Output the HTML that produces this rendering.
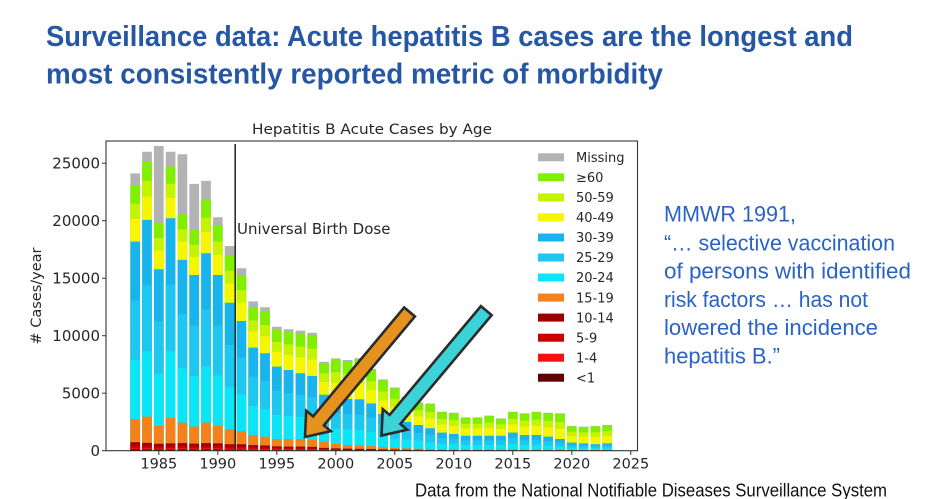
<!DOCTYPE html>
<html><head><meta charset="utf-8"><style>
html,body{margin:0;padding:0;background:#fff;}
svg{display:block;}
.tk{font-family:"DejaVu Sans","Liberation Sans",sans-serif;fill:#262626;}
</style></head><body>
<svg width="940" height="499" viewBox="0 0 940 499" xmlns="http://www.w3.org/2000/svg">
<rect width="940" height="499" fill="#fff"/>
<!-- Slide title -->
<g font-family="'Liberation Sans',sans-serif" font-weight="bold" font-size="29" fill="#2557a5">
<text x="46" y="46" textLength="807" lengthAdjust="spacingAndGlyphs">Surveillance data: Acute hepatitis B cases are the longest and</text>
<text x="46" y="83.5" textLength="617" lengthAdjust="spacingAndGlyphs">most consistently reported metric of morbidity</text>
</g>
<!-- Chart title -->
<text class="tk" x="372" y="134" font-size="14.5" text-anchor="middle" textLength="240" lengthAdjust="spacingAndGlyphs">Hepatitis B Acute Cases by Age</text>
<!-- Bars -->
<g transform="translate(99.8,450.7) scale(11.8,-0.0115)">
<path fill="#b3b3b3" d="M2.59 0h.82v24120h-.82zm1 0h.82v26000h-.82zm1 0h.82v26500h-.82zm1 0h.82v26000h-.82zm1 0h.82v25780h-.82zm1 0h.82v23200h-.82zm1 0h.82v23460h-.82zm1 0h.82v20300h-.82zm1 0h.82v17800h-.82zm1 0h.82v15870h-.82zm1 0h.82v12980h-.82zm1 0h.82v12470h-.82zm1 0h.82v10780h-.82zm1 0h.82v10560h-.82zm1 0h.82v10440h-.82zm1 0h.82v10260h-.82zm1 0h.82v7740h-.82zm1 0h.82v8030h-.82zm1 0h.82v7890h-.82zm1 0h.82v8050h-.82zm1 0h.82v7100h-.82zm1 0h.82v6200h-.82zm1 0h.82v5500h-.82zm1 0h.82v4700h-.82zm1 0h.82v4200h-.82zm1 0h.82v4100h-.82zm1 0h.82v3390h-.82zm1 0h.82v3300h-.82zm1 0h.82v2900h-.82zm1 0h.82v2900h-.82zm1 0h.82v3050h-.82zm1 0h.82v2810h-.82zm1 0h.82v3390h-.82zm1 0h.82v3250h-.82zm1 0h.82v3390h-.82zm1 0h.82v3300h-.82zm1 0h.82v3250h-.82zm1 0h.82v2150h-.82zm1 0h.82v2090h-.82zm1 0h.82v2150h-.82zm1 0h.82v2240h-.82z"/>
<path fill="#80f000" d="M2.59 0h.82v23100h-.82zm1 0h.82v25130h-.82zm1 0h.82v19830h-.82zm1 0h.82v24700h-.82zm1 0h.82v20560h-.82zm1 0h.82v19200h-.82zm1 0h.82v21810h-.82zm1 0h.82v19630h-.82zm1 0h.82v17020h-.82zm1 0h.82v15280h-.82zm1 0h.82v12500h-.82zm1 0h.82v12120h-.82zm1 0h.82v10530h-.82zm1 0h.82v10310h-.82zm1 0h.82v10190h-.82zm1 0h.82v10060h-.82zm1 0h.82v7640h-.82zm1 0h.82v7930h-.82zm1 0h.82v7790h-.82zm1 0h.82v7950h-.82zm1 0h.82v7000h-.82zm1 0h.82v6120h-.82zm1 0h.82v5420h-.82zm1 0h.82v4640h-.82zm1 0h.82v4140h-.82zm1 0h.82v4040h-.82zm1 0h.82v3340h-.82zm1 0h.82v3250h-.82zm1 0h.82v2850h-.82zm1 0h.82v2860h-.82zm1 0h.82v3010h-.82zm1 0h.82v2770h-.82zm1 0h.82v3350h-.82zm1 0h.82v3210h-.82zm1 0h.82v3350h-.82zm1 0h.82v3260h-.82zm1 0h.82v3210h-.82zm1 0h.82v2120h-.82zm1 0h.82v2060h-.82zm1 0h.82v2120h-.82zm1 0h.82v2210h-.82z"/>
<path fill="#c4f400" d="M2.59 0h.82v21476h-.82zm1 0h.82v23460h-.82zm1 0h.82v18493h-.82zm1 0h.82v23218h-.82zm1 0h.82v19250h-.82zm1 0h.82v17906h-.82zm1 0h.82v20279h-.82zm1 0h.82v18194h-.82zm1 0h.82v15650h-.82zm1 0h.82v13960h-.82zm1 0h.82v11332h-.82zm1 0h.82v10915h-.82zm1 0h.82v9467h-.82zm1 0h.82v9224h-.82zm1 0h.82v9048h-.82zm1 0h.82v8885h-.82zm1 0h.82v6726h-.82zm1 0h.82v6818h-.82zm1 0h.82v6704h-.82zm1 0h.82v6798h-.82zm1 0h.82v6043h-.82zm1 0h.82v5156h-.82zm1 0h.82v4522h-.82zm1 0h.82v3934h-.82zm1 0h.82v3513h-.82zm1 0h.82v3350h-.82zm1 0h.82v2756h-.82zm1 0h.82v2656h-.82zm1 0h.82v2338h-.82zm1 0h.82v2345h-.82zm1 0h.82v2446h-.82zm1 0h.82v2285h-.82zm1 0h.82v2763h-.82zm1 0h.82v2603h-.82zm1 0h.82v2697h-.82zm1 0h.82v2587h-.82zm1 0h.82v2487h-.82zm1 0h.82v1651h-.82zm1 0h.82v1591h-.82zm1 0h.82v1605h-.82zm1 0h.82v1692h-.82z"/>
<path fill="#f6f600" d="M2.59 0h.82v20148h-.82zm1 0h.82v22094h-.82zm1 0h.82v17400h-.82zm1 0h.82v22006h-.82zm1 0h.82v18178h-.82zm1 0h.82v16848h-.82zm1 0h.82v19026h-.82zm1 0h.82v17020h-.82zm1 0h.82v14530h-.82zm1 0h.82v12880h-.82zm1 0h.82v10376h-.82zm1 0h.82v9930h-.82zm1 0h.82v8598h-.82zm1 0h.82v8336h-.82zm1 0h.82v8114h-.82zm1 0h.82v7924h-.82zm1 0h.82v5978h-.82zm1 0h.82v5908h-.82zm1 0h.82v5816h-.82zm1 0h.82v5856h-.82zm1 0h.82v5260h-.82zm1 0h.82v4368h-.82zm1 0h.82v3788h-.82zm1 0h.82v3356h-.82zm1 0h.82v3000h-.82zm1 0h.82v2786h-.82zm1 0h.82v2278h-.82zm1 0h.82v2170h-.82zm1 0h.82v1920h-.82zm1 0h.82v1924h-.82zm1 0h.82v1984h-.82zm1 0h.82v1888h-.82zm1 0h.82v2282h-.82zm1 0h.82v2106h-.82zm1 0h.82v2162h-.82zm1 0h.82v2036h-.82zm1 0h.82v1896h-.82zm1 0h.82v1268h-.82zm1 0h.82v1208h-.82zm1 0h.82v1184h-.82zm1 0h.82v1268h-.82z"/>
<path fill="#18b4f0" d="M2.59 0h.82v18180h-.82zm1 0h.82v20070h-.82zm1 0h.82v15780h-.82zm1 0h.82v20210h-.82zm1 0h.82v16590h-.82zm1 0h.82v15280h-.82zm1 0h.82v17170h-.82zm1 0h.82v15280h-.82zm1 0h.82v12870h-.82zm1 0h.82v11280h-.82zm1 0h.82v8960h-.82zm1 0h.82v8470h-.82zm1 0h.82v7310h-.82zm1 0h.82v7020h-.82zm1 0h.82v6730h-.82zm1 0h.82v6500h-.82zm1 0h.82v4870h-.82zm1 0h.82v4560h-.82zm1 0h.82v4500h-.82zm1 0h.82v4460h-.82zm1 0h.82v4100h-.82zm1 0h.82v3200h-.82zm1 0h.82v2700h-.82zm1 0h.82v2500h-.82zm1 0h.82v2240h-.82zm1 0h.82v1950h-.82zm1 0h.82v1570h-.82zm1 0h.82v1450h-.82zm1 0h.82v1300h-.82zm1 0h.82v1300h-.82zm1 0h.82v1300h-.82zm1 0h.82v1300h-.82zm1 0h.82v1570h-.82zm1 0h.82v1370h-.82zm1 0h.82v1370h-.82zm1 0h.82v1220h-.82zm1 0h.82v1020h-.82zm1 0h.82v700h-.82zm1 0h.82v640h-.82zm1 0h.82v560h-.82zm1 0h.82v640h-.82z"/>
<path fill="#1ec6f2" d="M2.59 0h.82v13035h-.82zm1 0h.82v14372h-.82zm1 0h.82v11241h-.82zm1 0h.82v14436h-.82zm1 0h.82v11878h-.82zm1 0h.82v10888h-.82zm1 0h.82v12265h-.82zm1 0h.82v10914h-.82zm1 0h.82v9204h-.82zm1 0h.82v8087h-.82zm1 0h.82v6433h-.82zm1 0h.82v6056h-.82zm1 0h.82v5215h-.82zm1 0h.82v5022h-.82zm1 0h.82v4829h-.82zm1 0h.82v4652h-.82zm1 0h.82v3515h-.82zm1 0h.82v3235h-.82zm1 0h.82v3168h-.82zm1 0h.82v3125h-.82zm1 0h.82v2868h-.82zm1 0h.82v2234h-.82zm1 0h.82v1884h-.82zm1 0h.82v1734h-.82zm1 0h.82v1554h-.82zm1 0h.82v1351h-.82zm1 0h.82v1090h-.82zm1 0h.82v1007h-.82zm1 0h.82v904h-.82zm1 0h.82v900h-.82zm1 0h.82v900h-.82zm1 0h.82v900h-.82zm1 0h.82v1080h-.82zm1 0h.82v944h-.82zm1 0h.82v944h-.82zm1 0h.82v840h-.82zm1 0h.82v707h-.82zm1 0h.82v487h-.82zm1 0h.82v447h-.82zm1 0h.82v393h-.82zm1 0h.82v447h-.82z"/>
<path fill="#0ae6f8" d="M2.59 0h.82v7875h-.82zm1 0h.82v8658h-.82zm1 0h.82v6689h-.82zm1 0h.82v8644h-.82zm1 0h.82v7152h-.82zm1 0h.82v6482h-.82zm1 0h.82v7345h-.82zm1 0h.82v6536h-.82zm1 0h.82v5526h-.82zm1 0h.82v4883h-.82zm1 0h.82v3897h-.82zm1 0h.82v3634h-.82zm1 0h.82v3115h-.82zm1 0h.82v3018h-.82zm1 0h.82v2921h-.82zm1 0h.82v2798h-.82zm1 0h.82v2155h-.82zm1 0h.82v1905h-.82zm1 0h.82v1832h-.82zm1 0h.82v1785h-.82zm1 0h.82v1632h-.82zm1 0h.82v1266h-.82zm1 0h.82v1066h-.82zm1 0h.82v966h-.82zm1 0h.82v866h-.82zm1 0h.82v749h-.82zm1 0h.82v610h-.82zm1 0h.82v563h-.82zm1 0h.82v506h-.82zm1 0h.82v500h-.82zm1 0h.82v500h-.82zm1 0h.82v500h-.82zm1 0h.82v590h-.82zm1 0h.82v516h-.82zm1 0h.82v516h-.82zm1 0h.82v460h-.82zm1 0h.82v393h-.82zm1 0h.82v273h-.82zm1 0h.82v253h-.82zm1 0h.82v227h-.82zm1 0h.82v253h-.82z"/>
<path fill="#f4811a" d="M2.59 0h.82v2730h-.82zm1 0h.82v2960h-.82zm1 0h.82v2150h-.82zm1 0h.82v2870h-.82zm1 0h.82v2440h-.82zm1 0h.82v2090h-.82zm1 0h.82v2440h-.82zm1 0h.82v2170h-.82zm1 0h.82v1860h-.82zm1 0h.82v1690h-.82zm1 0h.82v1370h-.82zm1 0h.82v1220h-.82zm1 0h.82v1020h-.82zm1 0h.82v1020h-.82zm1 0h.82v1020h-.82zm1 0h.82v950h-.82zm1 0h.82v800h-.82zm1 0h.82v580h-.82zm1 0h.82v500h-.82zm1 0h.82v450h-.82zm1 0h.82v400h-.82zm1 0h.82v300h-.82zm1 0h.82v250h-.82zm1 0h.82v200h-.82zm1 0h.82v180h-.82zm1 0h.82v150h-.82zm1 0h.82v130h-.82zm1 0h.82v120h-.82zm1 0h.82v110h-.82zm1 0h.82v100h-.82zm1 0h.82v100h-.82zm1 0h.82v100h-.82zm1 0h.82v100h-.82zm1 0h.82v90h-.82zm1 0h.82v90h-.82zm1 0h.82v80h-.82zm1 0h.82v80h-.82zm1 0h.82v60h-.82zm1 0h.82v60h-.82zm1 0h.82v60h-.82zm1 0h.82v60h-.82z"/>
<path fill="#9a0000" d="M2.59 0h.82v730h-.82zm1 0h.82v680h-.82zm1 0h.82v600h-.82zm1 0h.82v640h-.82zm1 0h.82v660h-.82zm1 0h.82v620h-.82zm1 0h.82v660h-.82zm1 0h.82v640h-.82zm1 0h.82v560h-.82zm1 0h.82v560h-.82zm1 0h.82v480h-.82zm1 0h.82v450h-.82zm1 0h.82v380h-.82zm1 0h.82v350h-.82zm1 0h.82v350h-.82zm1 0h.82v330h-.82zm1 0h.82v250h-.82zm1 0h.82v200h-.82zm1 0h.82v180h-.82zm1 0h.82v160h-.82zm1 0h.82v150h-.82zm1 0h.82v120h-.82zm1 0h.82v100h-.82zm1 0h.82v80h-.82zm1 0h.82v70h-.82zm1 0h.82v60h-.82zm1 0h.82v50h-.82zm1 0h.82v50h-.82zm1 0h.82v40h-.82zm1 0h.82v40h-.82zm1 0h.82v40h-.82zm1 0h.82v40h-.82zm1 0h.82v40h-.82zm1 0h.82v30h-.82zm1 0h.82v30h-.82zm1 0h.82v30h-.82zm1 0h.82v30h-.82zm1 0h.82v20h-.82zm1 0h.82v20h-.82zm1 0h.82v20h-.82zm1 0h.82v20h-.82z"/>
<path fill="#cc0000" d="M2.59 0h.82v475h-.82zm1 0h.82v442h-.82zm1 0h.82v390h-.82zm1 0h.82v416h-.82zm1 0h.82v429h-.82zm1 0h.82v403h-.82zm1 0h.82v429h-.82zm1 0h.82v416h-.82zm1 0h.82v364h-.82zm1 0h.82v364h-.82zm1 0h.82v312h-.82zm1 0h.82v293h-.82zm1 0h.82v247h-.82zm1 0h.82v228h-.82zm1 0h.82v228h-.82zm1 0h.82v215h-.82zm1 0h.82v163h-.82zm1 0h.82v130h-.82z"/>
<path fill="#f81010" d="M2.59 0h.82v255h-.82zm1 0h.82v238h-.82zm1 0h.82v210h-.82zm1 0h.82v224h-.82zm1 0h.82v231h-.82zm1 0h.82v217h-.82zm1 0h.82v231h-.82zm1 0h.82v224h-.82zm1 0h.82v196h-.82zm1 0h.82v196h-.82zm1 0h.82v168h-.82zm1 0h.82v158h-.82zm1 0h.82v133h-.82zm1 0h.82v123h-.82zm1 0h.82v123h-.82zm1 0h.82v116h-.82zm1 0h.82v88h-.82zm1 0h.82v70h-.82z"/>
<path fill="#600000" d="M2.59 0h.82v110h-.82zm1 0h.82v102h-.82zm1 0h.82v90h-.82zm1 0h.82v96h-.82zm1 0h.82v99h-.82zm1 0h.82v93h-.82zm1 0h.82v99h-.82zm1 0h.82v96h-.82zm1 0h.82v84h-.82zm1 0h.82v84h-.82zm1 0h.82v72h-.82zm1 0h.82v68h-.82zm1 0h.82v57h-.82zm1 0h.82v53h-.82zm1 0h.82v53h-.82zm1 0h.82v50h-.82zm1 0h.82v38h-.82zm1 0h.82v30h-.82z"/>
</g>
<!-- Universal birth dose line -->
<line x1="235.2" y1="144" x2="235.2" y2="450.7" stroke="#222" stroke-width="1.5"/>
<text class="tk" x="237" y="234" font-size="15" fill="#1a1a1a">Universal Birth Dose</text>
<!-- Axes frame -->
<rect x="106" y="141" width="531.5" height="309.7" fill="none" stroke="#333" stroke-width="1.1"/>
<!-- Y ticks -->
<g stroke="#333" stroke-width="1">
<line x1="102" y1="450.7" x2="106" y2="450.7"/>
<line x1="102" y1="393.2" x2="106" y2="393.2"/>
<line x1="102" y1="335.7" x2="106" y2="335.7"/>
<line x1="102" y1="278.2" x2="106" y2="278.2"/>
<line x1="102" y1="220.7" x2="106" y2="220.7"/>
<line x1="102" y1="163.2" x2="106" y2="163.2"/>
<line x1="158.8" y1="450.7" x2="158.8" y2="455"/>
<line x1="217.8" y1="450.7" x2="217.8" y2="455"/>
<line x1="276.8" y1="450.7" x2="276.8" y2="455"/>
<line x1="335.8" y1="450.7" x2="335.8" y2="455"/>
<line x1="394.8" y1="450.7" x2="394.8" y2="455"/>
<line x1="453.8" y1="450.7" x2="453.8" y2="455"/>
<line x1="512.8" y1="450.7" x2="512.8" y2="455"/>
<line x1="571.8" y1="450.7" x2="571.8" y2="455"/>
<line x1="630.8" y1="450.7" x2="630.8" y2="455"/>
</g>
<g class="tk" font-size="15" text-anchor="end">
<text x="100" y="456">0</text>
<text x="100" y="398.5">5000</text>
<text x="100" y="341">10000</text>
<text x="100" y="283.5">15000</text>
<text x="100" y="226">20000</text>
<text x="100" y="168.5">25000</text>
</g>
<g class="tk" font-size="14.5" text-anchor="middle">
<text x="158.8" y="468.5">1985</text>
<text x="217.8" y="468.5">1990</text>
<text x="276.8" y="468.5">1995</text>
<text x="335.8" y="468.5">2000</text>
<text x="394.8" y="468.5">2005</text>
<text x="453.8" y="468.5">2010</text>
<text x="512.8" y="468.5">2015</text>
<text x="571.8" y="468.5">2020</text>
<text x="630.8" y="468.5">2025</text>
</g>
<text class="tk" transform="translate(41,296) rotate(-90)" font-size="14.5" text-anchor="middle"># Cases/year</text>
<!-- Legend -->
<g>
<rect x="538" y="153.3" width="26" height="8" fill="#b3b3b3"/>
<rect x="538" y="173.3" width="26" height="8" fill="#80f000"/>
<rect x="538" y="193.4" width="26" height="8" fill="#c4f400"/>
<rect x="538" y="213.4" width="26" height="8" fill="#f6f600"/>
<rect x="538" y="233.5" width="26" height="8" fill="#18b4f0"/>
<rect x="538" y="253.5" width="26" height="8" fill="#1ec6f2"/>
<rect x="538" y="273.5" width="26" height="8" fill="#0ae6f8"/>
<rect x="538" y="293.6" width="26" height="8" fill="#f4811a"/>
<rect x="538" y="313.6" width="26" height="8" fill="#9a0000"/>
<rect x="538" y="333.7" width="26" height="8" fill="#cc0000"/>
<rect x="538" y="353.7" width="26" height="8" fill="#f81010"/>
<rect x="538" y="373.7" width="26" height="8" fill="#600000"/>
</g>
<g class="tk" font-size="13">
<text x="576" y="162">Missing</text>
<text x="576" y="182">≥60</text>
<text x="576" y="202.1">50-59</text>
<text x="576" y="222.1">40-49</text>
<text x="576" y="242.2">30-39</text>
<text x="576" y="262.2">25-29</text>
<text x="576" y="282.2">20-24</text>
<text x="576" y="302.3">15-19</text>
<text x="576" y="322.3">10-14</text>
<text x="576" y="342.4">5-9</text>
<text x="576" y="362.4">1-4</text>
<text x="576" y="382.4">&lt;1</text>
</g>
<!-- Arrows -->
<g transform="translate(305,437) rotate(-50.1)">
<polygon points="0,0 21,-16 21,-7 163,-7 163,7 21,7 21,16" fill="#e6921e" stroke="#2b2b2b" stroke-width="2.6" stroke-linejoin="miter"/>
</g>
<g transform="translate(381.5,435.5) rotate(-50)">
<polygon points="0,0 21,-16 21,-7 163,-7 163,7 21,7 21,16" fill="#3cd3d8" stroke="#2b2b2b" stroke-width="2.6" stroke-linejoin="miter"/>
</g>
<!-- Right-side quote -->
<g font-family="'Liberation Sans',sans-serif" font-size="22" fill="#2a62c8">
<text x="664" y="221.7" textLength="132" lengthAdjust="spacingAndGlyphs">MMWR 1991,</text>
<text x="664" y="250.3" textLength="231" lengthAdjust="spacingAndGlyphs">“… selective vaccination</text>
<text x="664" y="278.6" textLength="247" lengthAdjust="spacingAndGlyphs">of persons with identified</text>
<text x="664" y="306.9" textLength="204" lengthAdjust="spacingAndGlyphs">risk factors … has not</text>
<text x="664" y="335.2" textLength="214" lengthAdjust="spacingAndGlyphs">lowered the incidence</text>
<text x="664" y="363.5" textLength="116" lengthAdjust="spacingAndGlyphs">hepatitis B.”</text>
</g>
<!-- Footnote -->
<text x="415" y="496.5" font-family="'Liberation Sans',sans-serif" font-size="18" fill="#111" textLength="472" lengthAdjust="spacingAndGlyphs">Data from the National Notifiable Diseases Surveillance System</text>
</svg>
</body></html>
